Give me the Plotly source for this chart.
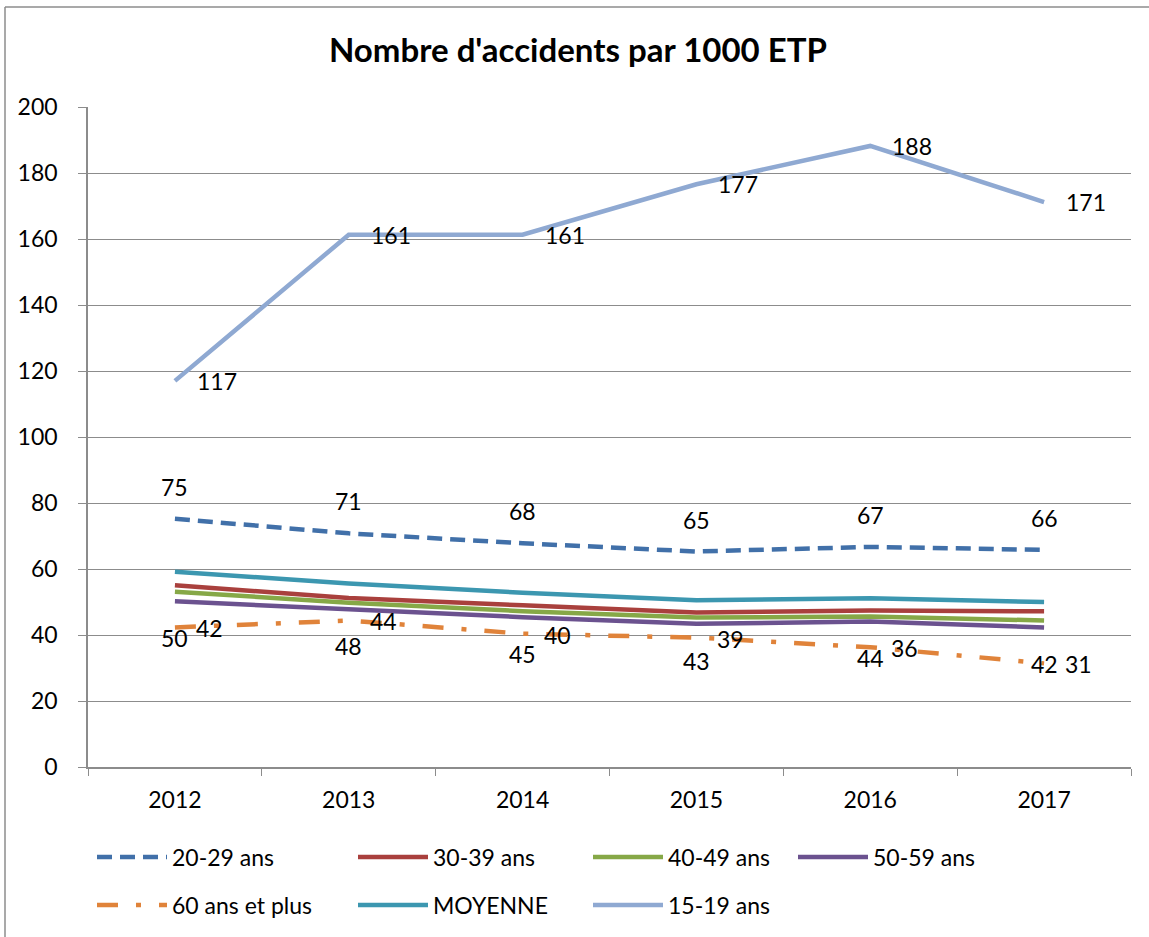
import plotly.graph_objects as go

years = ["2012", "2013", "2014", "2015", "2016", "2017"]

s_20_29 = [75.2, 70.8, 67.8, 65.3, 66.7, 65.8]
s_30_39 = [55.1, 51.2, 49.0, 46.8, 47.4, 47.2]
s_40_49 = [53.1, 49.8, 47.2, 45.3, 45.6, 44.4]
s_50_59 = [50.2, 47.8, 45.4, 43.4, 44.1, 42.3]
s_60_plus = [42.3, 44.4, 40.4, 39.2, 36.3, 31.4]
s_moyenne = [59.2, 55.6, 52.8, 50.5, 51.1, 50.0]
s_15_19 = [117.0, 161.3, 161.3, 176.6, 188.2, 171.2]

FONT = "Lato"
FS = 23
W, H = 1149, 937

fig = go.Figure()

# name, values, colour, dash, legend id, legend symbol start x (px), legend row y (px)
series = [
    ("20-29 ans", s_20_29, "#4170A9", "15px,8px", "legend", 96, 857),
    ("30-39 ans", s_30_39, "#A9403D", "solid", "legend2", 357, 857),
    ("40-49 ans", s_40_49, "#86A847", "solid", "legend3", 592, 857),
    ("50-59 ans", s_50_59, "#6B528F", "solid", "legend4", 797, 857),
    ("60 ans et plus", s_60_plus, "#E0833A", "21px,18px,5px,18px", "legend5", 96, 905),
    ("MOYENNE", s_moyenne, "#3C97B0", "solid", "legend6", 357, 905),
    ("15-19 ans", s_15_19, "#8FA9D2", "solid", "legend7", 592, 905),
]

legends = {}
for name, vals, color, dash, leg, lx, ly in series:
    fig.add_trace(go.Scatter(
        x=years, y=vals, name=name, mode="lines",
        line=dict(color=color, width=4.5, dash=dash),
        legend=leg,
    ))
    legends[leg] = dict(
        orientation="h", xref="container", yref="container",
        x=(lx - 4) / W, y=1 - ly / H, xanchor="left", yanchor="middle",
        itemwidth=70, font=dict(family=FONT, size=FS, color="black"),
        bgcolor="rgba(0,0,0,0)",
    )

annots = []
def add_labels(vals, xshift, yshift, xanchor):
    for i, v in enumerate(vals):
        annots.append(dict(
            x=i, y=v, xref="x", yref="y", text=str(int(round(v))),
            showarrow=False, xshift=xshift, yshift=yshift,
            xanchor=xanchor, yanchor="middle",
            font=dict(family=FONT, size=FS, color="black"),
        ))

add_labels(s_20_29, 0, 32, "center")
add_labels(s_50_59, 0, -37, "center")
add_labels(s_60_plus, 19, -1, "left")
add_labels(s_15_19, 20, 0, "left")

fig.update_layout(
    width=W, height=H,
    margin=dict(l=88, r=18, t=107, b=170),
    paper_bgcolor="white", plot_bgcolor="white",
    font=dict(family=FONT, size=FS, color="black"),
    title=dict(text="<b>Nombre d'accidents par 1000 ETP</b>",
               x=0.503, xref="container", xanchor="center",
               y=1 - 50 / H, yref="container", yanchor="middle",
               font=dict(family=FONT, size=33, color="black")),
    annotations=annots,
    showlegend=True,
    shapes=[
        dict(type="line", xref="paper", yref="paper",
             x0=(5 - 88) / 1043, x1=(1149 - 88) / 1043,
             y0=(767 - 7) / 660, y1=(767 - 7) / 660,
             line=dict(color="#8c8c8c", width=1.5)),
        dict(type="line", xref="paper", yref="paper",
             x0=(5 - 88) / 1043, x1=(5 - 88) / 1043,
             y0=(767 - 7) / 660, y1=(767 - 937) / 660,
             line=dict(color="#8c8c8c", width=1.5)),
    ],
    **legends,
)

fig.update_xaxes(
    type="category", tickson="boundaries", ticks="outside", ticklen=7,
    tickcolor="#8c8c8c", showline=True, linecolor="#8c8c8c", linewidth=1.5,
    showgrid=False, tickfont=dict(family=FONT, size=FS, color="black"),
    ticklabelstandoff=12, range=[-0.5, 5.5],
)
fig.update_yaxes(
    range=[0, 200], dtick=20, tick0=0, ticks="outside", ticklen=8,
    tickcolor="#8c8c8c", showline=True, linecolor="#8c8c8c", linewidth=1.5,
    showgrid=True, gridcolor="#8c8c8c", gridwidth=1.2, zeroline=False,
    tickfont=dict(family=FONT, size=FS, color="black"),
    ticklabelstandoff=16,
)

fig.write_html("out.html", config={"displayModeBar": False},
               post_script="document.body.style.margin='0px';")
